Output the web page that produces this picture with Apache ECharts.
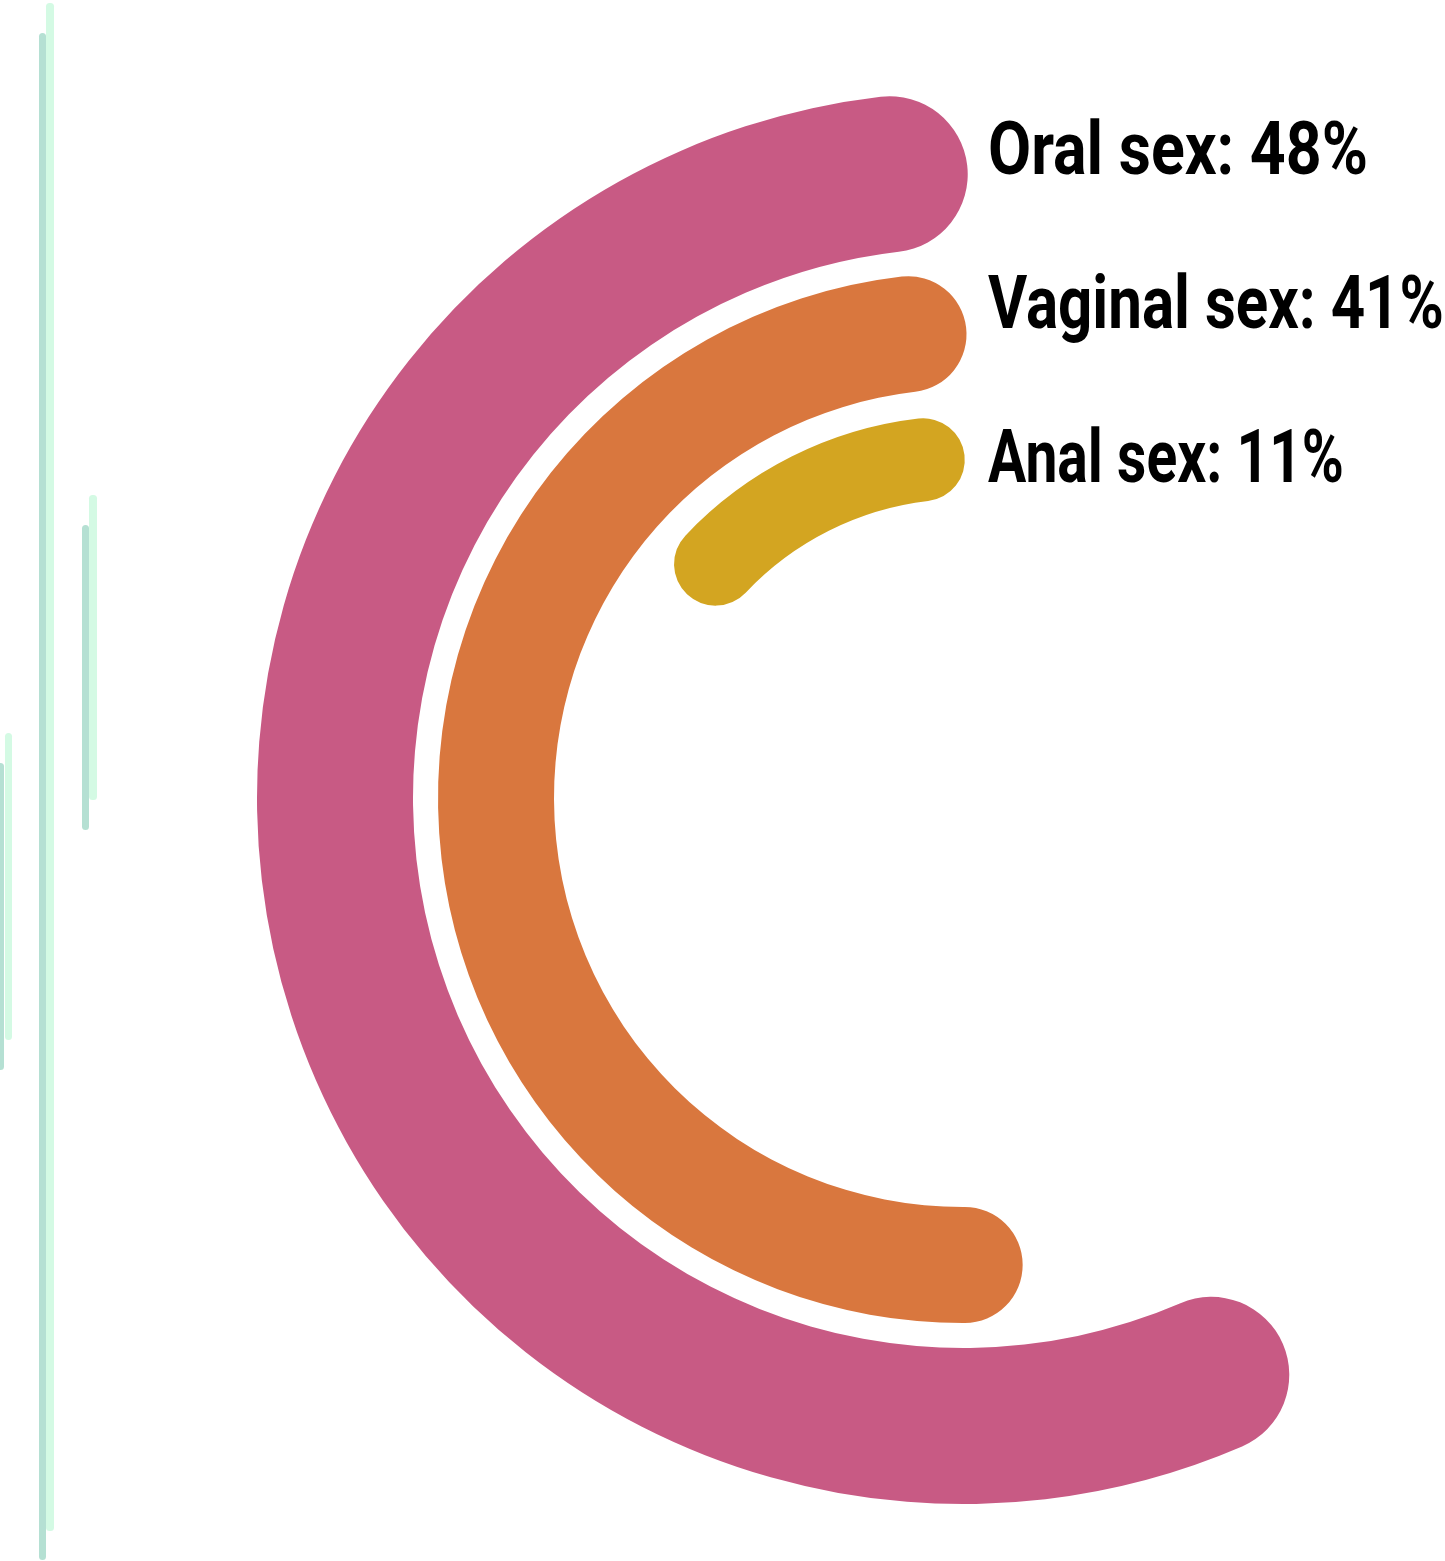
<!DOCTYPE html>
<html>
<head>
<meta charset="utf-8">
<script src="https://cdn.jsdelivr.net/npm/echarts@6/dist/echarts.min.js"></script>
<style>
  html, body { margin: 0; padding: 0; background: #ffffff; }
  #chart { width: 1445px; height: 1561px; }
</style>
</head>
<body>
<div id="chart"></div>
<script>
// ---- data ----
const categories = ['Oral sex', 'Vaginal sex', 'Anal sex'];
const values = [48, 41, 11];
const colors = ['#C85A84', '#D9773E', '#D3A521'];

// ---- layout ----
const center = [963, 798];
const ringRadii = [[550, 706], [409, 525], [299, 382]];
const angleMax = [87.9, 85.07, 99.2];
const startAngle = 96.7;
const labelPos = [[988, 155], [988, 309], [988, 463]];
const labelWidth = [380, 456, 356];
const labelFont = 'bold 75px Roboto';

const polar = [], angleAxis = [], radiusAxis = [], series = [];
categories.forEach((c, i) => {
  polar.push({ center: center, radius: ringRadii[i] });
  angleAxis.push({
    polarIndex: i, type: 'value', min: 0, max: angleMax[i],
    startAngle: startAngle, clockwise: false, show: false
  });
  radiusAxis.push({ polarIndex: i, type: 'category', data: [c], show: false });
  series.push({
    type: 'bar', coordinateSystem: 'polar', polarIndex: i,
    data: [values[i]], roundCap: true, barWidth: '100%',
    itemStyle: { color: colors[i] }, silent: true, animation: false
  });
});

const graphic = [];
// decorative vertical strokes at the left edge
const strokes = [
  [39, 33, 7, 1527, '#B5E0D3'], [46, 3, 8, 1528, '#D4FAE4'],
  [82, 525, 7, 305, '#B5E0D3'], [89, 495, 8, 305, '#D4FAE4'],
  [-3, 763, 7, 307, '#B5E0D3'], [5, 733, 7, 307, '#D4FAE4']
];
strokes.forEach(s => graphic.push({
  type: 'rect', z: 0, silent: true,
  shape: { x: s[0], y: s[1], width: s[2], height: s[3], r: 3.5 },
  style: { fill: s[4] }
}));

const measureCtx = document.createElement('canvas').getContext('2d');
measureCtx.font = labelFont;
categories.forEach((c, i) => {
  const txt = c + ': ' + values[i] + '%';
  const w = measureCtx.measureText(txt).width;
  graphic.push({
    type: 'text', x: labelPos[i][0], y: labelPos[i][1], scaleX: labelWidth[i] / w, z: 10,
    style: {
      text: txt, fill: '#000000', font: labelFont,
      textAlign: 'left', textVerticalAlign: 'middle'
    }
  });
});

const chart = echarts.init(document.getElementById('chart'), null, { renderer: 'canvas' });
chart.setOption({
  backgroundColor: '#ffffff',
  animation: false,
  polar: polar,
  angleAxis: angleAxis,
  radiusAxis: radiusAxis,
  series: series,
  graphic: graphic
});
</script>
</body>
</html>
